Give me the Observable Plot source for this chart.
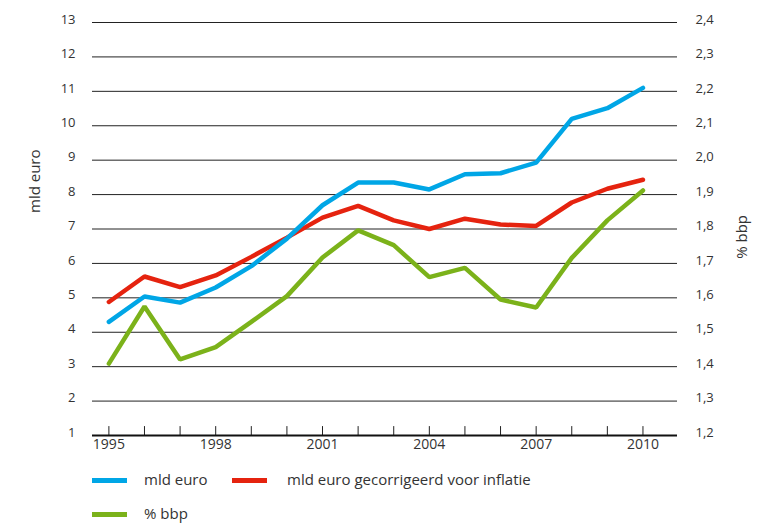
<!DOCTYPE html>
<html>
<head>
<meta charset="utf-8">
<script src="https://cdn.jsdelivr.net/npm/d3@7"></script>
<script src="https://cdn.jsdelivr.net/npm/@observablehq/plot@0.6"></script>
<style>
  html, body { margin: 0; padding: 0; background: #fff; }
  #wrap { position: relative; width: 770px; height: 525px; font-family: "Open Sans", sans-serif; color: #333; }
  #legend { position: absolute; left: 0; top: 460px; width: 770px; height: 65px; font-size: 15px; }
  .sw { position: absolute; height: 5px; width: 35px; }
  .lt { position: absolute; line-height: 20px; white-space: nowrap; }
</style>
</head>
<body>
<div id="wrap">
  <div id="chart"></div>
  <div id="legend"></div>
</div>
<script>
// ---- data ----
const years = [1995, 1996, 1997, 1998, 1999, 2000, 2001, 2002, 2003, 2004, 2005, 2006, 2007, 2008, 2009, 2010];
const mldEuro = [4.30, 5.04, 4.86, 5.30, 5.92, 6.72, 7.69, 8.35, 8.35, 8.15, 8.59, 8.62, 8.93, 10.20, 10.51, 11.10];
const mldEuroInflatie = [4.88, 5.62, 5.31, 5.65, 6.19, 6.75, 7.33, 7.67, 7.25, 7.00, 7.30, 7.13, 7.09, 7.77, 8.17, 8.43];
const pctBbp = [1.409, 1.575, 1.421, 1.457, 1.530, 1.605, 1.717, 1.796, 1.753, 1.660, 1.687, 1.595, 1.572, 1.716, 1.825, 1.912];
const leftTicks = [1, 2, 3, 4, 5, 6, 7, 8, 9, 10, 11, 12, 13];
const rightTickLabels = ["1,2", "1,3", "1,4", "1,5", "1,6", "1,7", "1,8", "1,9", "2,0", "2,1", "2,2", "2,3", "2,4"];
const xTickLabels = [1995, 1998, 2001, 2004, 2007, 2010];
const seriesNames = ["mld euro", "mld euro gecorrigeerd voor inflatie", "% bbp"];
const seriesColors = ["#00a6e6", "#e5230f", "#7bb21a"];

// right axis value -> left axis scale
const bbpToLeft = v => 1 + (v - 1.2) * 10;

const rows = years.map((y, i) => ({year: y, a: mldEuro[i], b: mldEuroInflatie[i], c: bbpToLeft(pctBbp[i])}));

const tickShape = {draw(ctx, l) { ctx.moveTo(0, 0); ctx.lineTo(0, -l); }};

const chart = Plot.plot({
  width: 770,
  height: 460,
  marginLeft: 92,
  marginRight: 93,
  marginTop: 22,
  marginBottom: 25,
  style: {fontFamily: "'Open Sans', sans-serif", fontSize: "13px", color: "#333", background: "#fff", fontVariantNumeric: "oldstyle-nums"},
  x: {domain: [1994.54, 2010.97]},
  y: {domain: [1, 13]},
  marks: [
    Plot.ruleY(leftTicks.slice(1), {stroke: "#222", strokeWidth: 1}),
    Plot.axisY(leftTicks, {anchor: "left", tickSize: 0, tickPadding: 17, label: null, dy: -3, fontSize: 13}),
    Plot.axisY(leftTicks, {anchor: "right", tickSize: 0, tickPadding: 18, label: null, dy: -3, fontSize: 13,
      tickFormat: d => rightTickLabels[leftTicks.indexOf(d)]}),
    Plot.vector(years, {x: d => d, y: () => 1, length: 9, rotate: 0, anchor: "start", shape: tickShape, stroke: "#222", strokeWidth: 1}),
    Plot.ruleY([1], {stroke: "#111", strokeWidth: 2}),
    Plot.axisX(xTickLabels, {tickSize: 0, tickPadding: 4, label: null, tickFormat: d => String(d), fontSize: 14}),
    Plot.text([seriesNames[0]], {frameAnchor: "left", dx: -57, dy: -16, rotate: -90, fontSize: 15, fill: "#333"}),
    Plot.text([seriesNames[2]], {frameAnchor: "right", dx: 65, dy: -14, rotate: -90, fontSize: 15, fill: "#333"}),
    Plot.line(rows, {x: "year", y: "c", stroke: seriesColors[2], strokeWidth: 4.5, strokeLinecap: "round", strokeLinejoin: "miter"}),
    Plot.line(rows, {x: "year", y: "b", stroke: seriesColors[1], strokeWidth: 4.5, strokeLinecap: "round", strokeLinejoin: "miter"}),
    Plot.line(rows, {x: "year", y: "a", stroke: seriesColors[0], strokeWidth: 4.5, strokeLinecap: "round", strokeLinejoin: "miter"})
  ]
});
document.getElementById("chart").appendChild(chart);

// ---- legend ----
const legendLayout = [
  {sw: 92, tx: 144, cy: 20},
  {sw: 232, tx: 287, cy: 20},
  {sw: 92, tx: 144, cy: 54}
];
const legend = document.getElementById("legend");
seriesNames.forEach((name, i) => {
  const L = legendLayout[i];
  const s = document.createElement("div");
  s.className = "sw";
  s.style.left = L.sw + "px";
  s.style.top = (L.cy - 2.5) + "px";
  s.style.background = seriesColors[i];
  legend.appendChild(s);
  const t = document.createElement("div");
  t.className = "lt";
  t.style.left = L.tx + "px";
  t.style.top = (L.cy - 11) + "px";
  t.textContent = name;
  legend.appendChild(t);
});
</script>
</body>
</html>
